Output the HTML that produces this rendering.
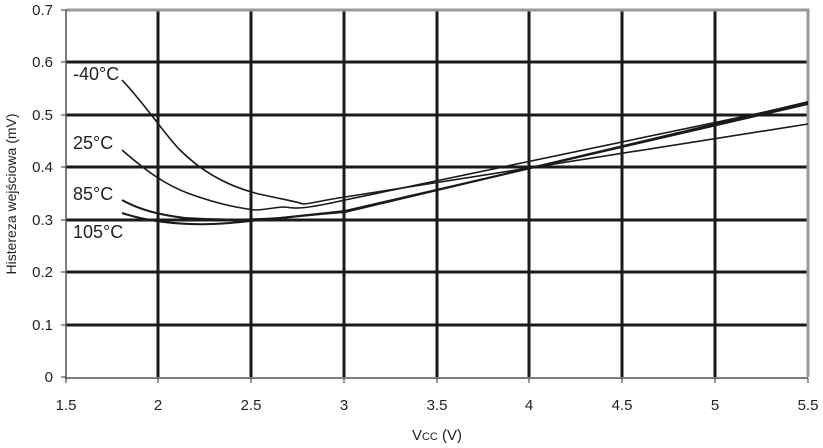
<!DOCTYPE html><html><head><style>body{margin:0;background:#fff}svg text{font-family:"Liberation Sans",sans-serif;fill:#222}</style></head><body>
<svg width="823" height="443" xmlns="http://www.w3.org/2000/svg">
<rect width="823" height="443" fill="#fff"/>
<g stroke="#1a1a1a" stroke-width="3">
<line x1="66" y1="62" x2="808" y2="62"/><line x1="66" y1="115" x2="808" y2="115"/><line x1="66" y1="167" x2="808" y2="167"/><line x1="66" y1="220" x2="808" y2="220"/><line x1="66" y1="272" x2="808" y2="272"/><line x1="66" y1="325" x2="808" y2="325"/>
<line x1="158" y1="10" x2="158" y2="377"/><line x1="251" y1="10" x2="251" y2="377"/><line x1="344" y1="10" x2="344" y2="377"/><line x1="437" y1="10" x2="437" y2="377"/><line x1="529" y1="10" x2="529" y2="377"/><line x1="622" y1="10" x2="622" y2="377"/><line x1="715" y1="10" x2="715" y2="377"/>
</g>
<g stroke="#999" stroke-width="3" fill="none"><path d="M66 10H808V377"/></g>
<g stroke="#555" stroke-width="1.5"><line x1="66" y1="10" x2="66" y2="378"/><line x1="65" y1="378" x2="808" y2="378"/></g>
<g stroke="#333" stroke-width="1">
<line x1="61" y1="10" x2="66" y2="10"/><line x1="61" y1="62" x2="66" y2="62"/><line x1="61" y1="115" x2="66" y2="115"/><line x1="61" y1="167" x2="66" y2="167"/><line x1="61" y1="220" x2="66" y2="220"/><line x1="61" y1="272" x2="66" y2="272"/><line x1="61" y1="325" x2="66" y2="325"/><line x1="61" y1="377" x2="66" y2="377"/>
<line x1="66" y1="378" x2="66" y2="383"/><line x1="158" y1="378" x2="158" y2="383"/><line x1="251" y1="378" x2="251" y2="383"/><line x1="344" y1="378" x2="344" y2="383"/><line x1="437" y1="378" x2="437" y2="383"/><line x1="529" y1="378" x2="529" y2="383"/><line x1="622" y1="378" x2="622" y2="383"/><line x1="715" y1="378" x2="715" y2="383"/><line x1="808" y1="378" x2="808" y2="383"/>
</g>
<g fill="none" stroke="#1a1a1a" stroke-linejoin="round">
<path stroke-width="1.6" d="M122 80 C145 104 165 135 180 150 C200 170 225 185 255 193 C275 198 295 201 303 204 C310 204 318 201 345 197 L808 124"/>
<path stroke-width="1.6" d="M122 150 C145 170 165 185 190 194 C210 201 230 207 255 210 C265 210 275 207 285 207 C295 209 305 209 345 200 L808 103"/>
<path stroke-width="2" d="M122 200 C140 210 160 215 185 218 C215 220 250 220 280 218 L345 211 L808 104"/>
<path stroke-width="2" d="M122 213 C140 219 160 223 190 224 C220 225 240 222 260 220 C290 217 320 214 345 212 L808 102"/>
</g>
<g font-size="15" text-anchor="end">
<text x="53" y="15">0.7</text><text x="53" y="67">0.6</text><text x="53" y="120">0.5</text><text x="53" y="172">0.4</text><text x="53" y="225">0.3</text><text x="53" y="277">0.2</text><text x="53" y="330">0.1</text><text x="53" y="382">0</text>
</g>
<g font-size="15" text-anchor="middle">
<text x="66" y="410">1.5</text><text x="158" y="410">2</text><text x="251" y="410">2.5</text><text x="344" y="410">3</text><text x="437" y="410">3.5</text><text x="529" y="410">4</text><text x="622" y="410">4.5</text><text x="715" y="410">5</text><text x="808" y="410">5.5</text>
<text x="437" y="440">V<tspan font-size="11">CC</tspan> (V)</text>
</g>
<text font-size="14" text-anchor="middle" transform="translate(16,194) rotate(-90)">Histereza wejściowa (mV)</text>
<g font-size="18">
<text x="73" y="80">-40°C</text><text x="73" y="149">25°C</text><text x="73" y="200">85°C</text><text x="73" y="238">105°C</text>
</g>
</svg></body></html>
